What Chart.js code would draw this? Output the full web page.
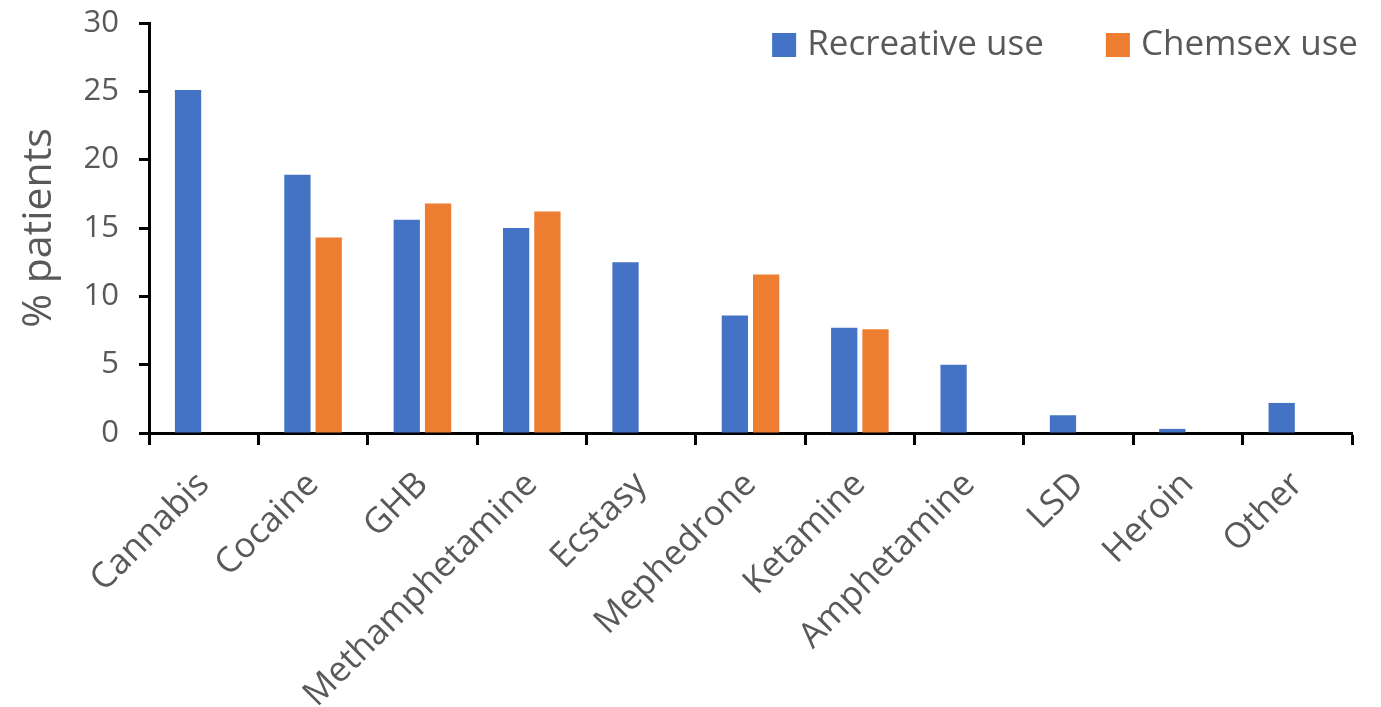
<!DOCTYPE html>
<html>
<head>
<meta charset="utf-8">
<title>Drug use</title>
<script src="https://cdn.jsdelivr.net/npm/chart.js"></script>
<style>
  html, body { margin: 0; padding: 0; background: #fff; }
  #wrap { width: 1381px; height: 707px; }
</style>
</head>
<body>
<div id="wrap"><canvas id="chart" width="1381" height="707"></canvas></div>
<script>
const drugs = ['Cannabis', 'Cocaine', 'GHB', 'Methamphetamine', 'Ecstasy', 'Mephedrone',
	'Ketamine', 'Amphetamine', 'LSD', 'Heroin', 'Other'];
const recreativeUse = [25.1, 18.9, 15.6, 15.0, 12.5, 8.6, 7.7, 5.0, 1.3, 0.3, 2.2];
const chemsexUse = [null, 14.3, 16.8, 16.2, null, 11.6, 7.6, null, null, null, null];
const yTicks = [0, 5, 10, 15, 20, 25, 30];

const grey = '#595959';
const fontFamily = "'Open Sans', 'Noto Sans', sans-serif";

// legend drawn inside the plot, top right, in one row
const insideLegend = {
	id: 'insideLegend',
	afterDraw(chart) {
		const ctx = chart.ctx;
		const area = chart.chartArea;
		const box = 24, textGap = 11, itemGap = 62;
		ctx.save();
		ctx.font = '35px ' + fontFamily;
		ctx.textBaseline = 'middle';
		const items = chart.data.datasets.map(ds => ({
			label: ds.label, color: ds.backgroundColor, w: ctx.measureText(ds.label).width
		}));
		let total = 0;
		items.forEach((it, i) => { total += box + textGap + it.w + (i ? itemGap : 0); });
		let x = area.right + 6 - total;
		const y = 45;
		items.forEach(it => {
			ctx.fillStyle = it.color;
			ctx.fillRect(x, y - box / 2, box, box);
			ctx.fillStyle = grey;
			ctx.fillText(it.label, x + box + textGap, y);
			x += box + textGap + it.w + itemGap;
		});
		ctx.restore();
	}
};

new Chart(document.getElementById('chart'), {
	type: 'bar',
	data: {
		labels: drugs,
		datasets: [{
			label: 'Recreative use',
			data: recreativeUse,
			backgroundColor: '#4472C4',
			categoryPercentage: 0.572,
			barPercentage: 0.84
		}, {
			label: 'Chemsex use',
			data: chemsexUse,
			backgroundColor: '#ED7D31',
			categoryPercentage: 0.572,
			barPercentage: 0.84
		}]
	},
	options: {
		responsive: false,
		animation: false,
		layout: { padding: { top: 23, right: 29, left: 0, bottom: 0 } },
		plugins: {
			legend: { display: false },
			tooltip: { enabled: false }
		},
		scales: {
			x: {
				grid: {
					drawOnChartArea: false,
					tickLength: 12,
					tickColor: '#000',
					tickWidth: 3,
					offset: true
				},
				border: { color: '#000', width: 3 },
				ticks: {
					color: grey,
					font: { family: fontFamily, size: 35 },
					minRotation: 45,
					maxRotation: 45,
					padding: 19
				},
				afterFit(scale) { scale.height = 274; }
			},
			y: {
				min: 0,
				max: 30,
				afterBuildTicks(scale) { scale.ticks = yTicks.map(v => ({ value: v })); },
				grid: {
					drawOnChartArea: false,
					tickLength: 10,
					tickColor: '#000',
					tickWidth: 3
				},
				border: { color: '#000', width: 3 },
				ticks: {
					color: grey,
					font: { family: fontFamily, size: 31 },
					padding: 20
				},
				title: {
					display: true,
					text: '% patients',
					color: grey,
					font: { family: fontFamily, size: 41 },
					padding: { top: 15, bottom: 0 }
				},
				afterFit(scale) {
					scale.width = 149;
					scale.paddingTop = 0;
					scale.paddingBottom = 0;
				}
			}
		}
	},
	plugins: [insideLegend]
});
</script>
</body>
</html>
